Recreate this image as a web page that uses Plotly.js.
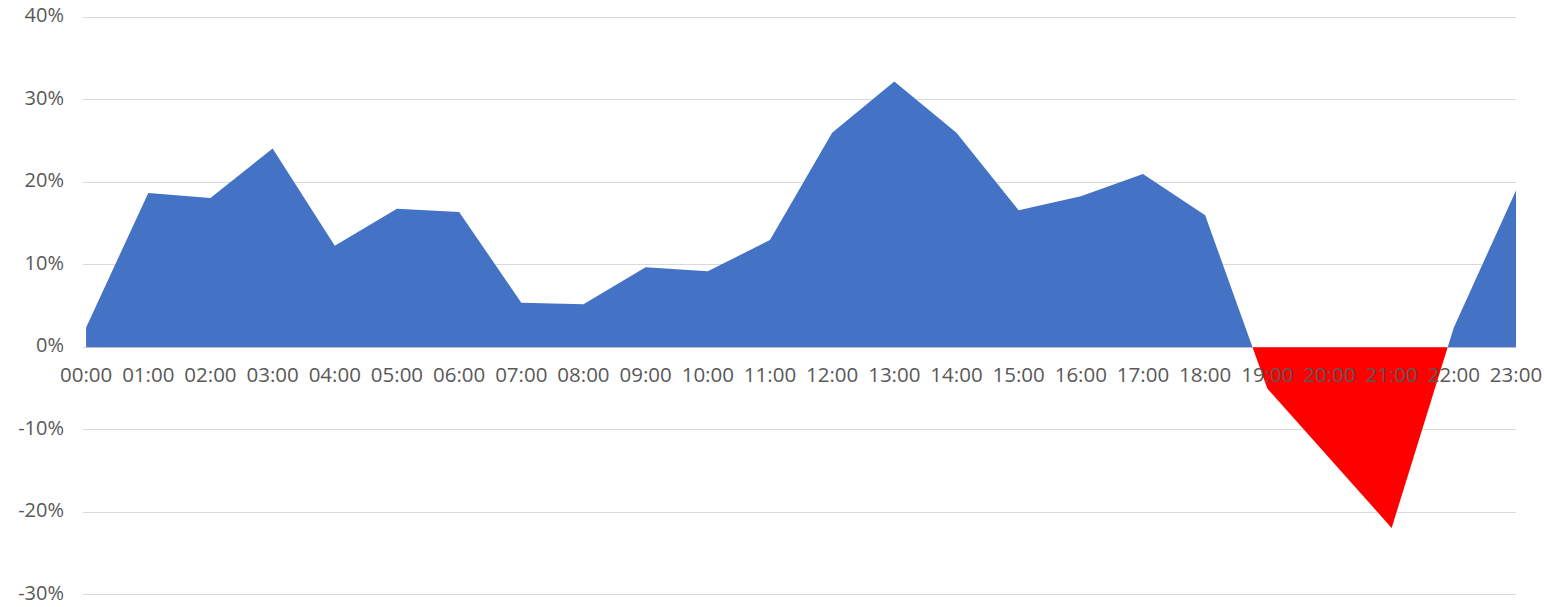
<!DOCTYPE html>
<html>
<head>
<meta charset="utf-8">
<script src="https://cdn.plot.ly/plotly-3.0.1.min.js"></script>
<style>
  html, body { margin: 0; padding: 0; background: #ffffff; }
  #chart { width: 1544px; height: 607px; }
</style>
</head>
<body>
<div id="chart"></div>
<script>
// ---- data ----
var hours = ["00:00","01:00","02:00","03:00","04:00","05:00","06:00","07:00","08:00","09:00","10:00","11:00",
             "12:00","13:00","14:00","15:00","16:00","17:00","18:00","19:00","20:00","21:00","22:00","23:00"];
var changePct = [2.4, 18.7, 18.1, 24.1, 12.3, 16.8, 16.4, 5.4, 5.2, 9.7, 9.2, 13.0,
                 26.0, 32.2, 26.0, 16.6, 18.3, 21.0, 16.0, -5.0, -13.5, -21.9, 2.4, 19.0];
var yTickVals = [-30, -20, -10, 0, 10, 20, 30, 40];
var yTickText = ["-30%", "-20%", "-10%", "0%", "10%", "20%", "30%", "40%"];

// ---- split the single series into positive and negative parts (zero crossings derived from data) ----
function splitSeries(vals, positive) {
  var xs = [], ys = [];
  for (var i = 0; i < vals.length; i++) {
    var v = vals[i];
    ys.push(positive ? Math.max(v, 0) : Math.min(v, 0));
    xs.push(i);
    if (i < vals.length - 1) {
      var w = vals[i + 1];
      if ((v > 0 && w < 0) || (v < 0 && w > 0)) {
        xs.push(i + v / (v - w));
        ys.push(0);
      }
    }
  }
  return {x: xs, y: ys};
}
var pos = splitSeries(changePct, true);
var neg = splitSeries(changePct, false);
var idx = hours.map(function (h, i) { return i; });

var traces = [
  {x: pos.x, y: pos.y, type: 'scatter', mode: 'lines', fill: 'tozeroy',
   fillcolor: '#4472C4', line: {width: 0, color: '#4472C4'}, hoverinfo: 'skip', showlegend: false},
  {x: neg.x, y: neg.y, type: 'scatter', mode: 'lines', fill: 'tozeroy',
   fillcolor: '#FF0000', line: {width: 0, color: '#FF0000'}, hoverinfo: 'skip', showlegend: false}
];

var yMin = -30.15, yMax = 40.15;

var layout = {
  width: 1544, height: 607,
  margin: {l: 83, r: 28, t: 16, b: 11, pad: 0},
  paper_bgcolor: '#ffffff', plot_bgcolor: '#ffffff',
  font: {family: 'Open Sans, sans-serif', size: 21, color: '#595959'},
  xaxis: {
    range: [-0.05, 23.0],
    tickmode: 'array', tickvals: idx, ticktext: hours,
    showgrid: false, zeroline: false, showline: false,
    ticks: '', ticklabelstandoff: 13, ticklabeloverflow: 'allow',
    anchor: 'free', position: (0 - yMin) / (yMax - yMin),
    layer: 'above traces', automargin: false,
    tickfont: {family: 'Open Sans, sans-serif', size: 20.5, color: '#595959'}
  },
  yaxis: {
    range: [yMin, yMax], domain: [0, 1],
    tickmode: 'array', tickvals: yTickVals, ticktext: yTickText,
    showgrid: true, gridcolor: '#d9d9d9', gridwidth: 1,
    zeroline: true, zerolinecolor: '#d9d9d9', zerolinewidth: 1,
    showline: false, ticks: '', ticklabelstandoff: 18, ticklabelshift: -2,
    ticklabeloverflow: 'allow', automargin: false,
    tickfont: {family: 'Open Sans, sans-serif', size: 20, color: '#595959'}
  },
  showlegend: false
};

Plotly.newPlot('chart', traces, layout, {displayModeBar: false, staticPlot: true});
</script>
</body>
</html>
